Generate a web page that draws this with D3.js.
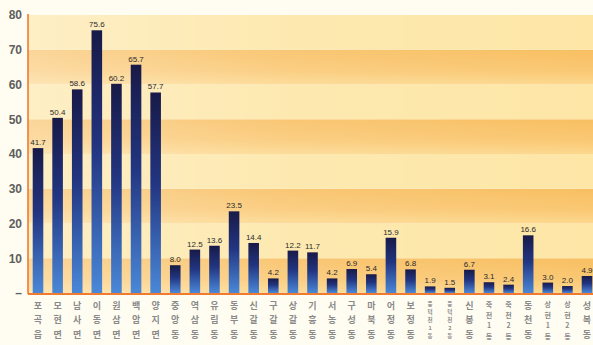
<!DOCTYPE html>
<html><head><meta charset="utf-8">
<script src="https://cdn.jsdelivr.net/npm/d3@7"></script>
<style>
html,body{margin:0;padding:0;background:#fffdf1;}
svg{display:block;}
</style></head>
<body>
<svg id="chart" width="593" height="345"></svg>
<script>
const categories = ["포곡읍","모현면","남사면","이동면","원삼면","백암면","양지면","중앙동","역삼동","유림동","동부동","신갈동","구갈동","상갈동","기흥동","서농동","구성동","마북동","어정동","보정동","풍덕천1동","풍덕천2동","신봉동","죽전1동","죽전2동","동천동","상현1동","상현2동","성복동"];
const values = [41.7,50.4,58.6,75.6,60.2,65.7,57.7,8.0,12.5,13.6,23.5,14.4,4.2,12.2,11.7,4.2,6.9,5.4,15.9,6.8,1.9,1.5,6.7,3.1,2.4,16.6,3.0,2.0,4.9];
const yTicks = [0,10,20,30,40,50,60,70,80];
const yTickLabels = ["–","10","20","30","40","50","60","70","80"];

(function(){
const svg = d3.select("#chart");
const mLeft = 28, mRight = 597, mTop = 15, mBottom = 293;
const x = d3.scaleBand().domain(categories).range([mLeft, mRight]).paddingInner(0.46).paddingOuter(0.24);
const y = d3.scaleLinear().domain([0, 80]).range([mBottom, mTop]);

const defs = svg.append("defs");
const bg = defs.append("linearGradient").attr("id","bgfade").attr("x1","0").attr("x2","1").attr("y1","0").attr("y2","0");
bg.append("stop").attr("offset","0").attr("stop-color","#ffffff").attr("stop-opacity",0.35);
bg.append("stop").attr("offset","0.45").attr("stop-color","#ffffff").attr("stop-opacity",0.12);
bg.append("stop").attr("offset","1").attr("stop-color","#ffffff").attr("stop-opacity",0);
const dk = defs.append("linearGradient").attr("id","dark").attr("x1","0").attr("x2","0").attr("y1","0").attr("y2","1");
dk.append("stop").attr("offset","0").attr("stop-color","#f8bf62");
dk.append("stop").attr("offset","0.6").attr("stop-color","#fac873");
dk.append("stop").attr("offset","1").attr("stop-color","#fcd88e");
const bar = defs.append("linearGradient").attr("id","bar").attr("x1","0").attr("x2","0").attr("y1","0").attr("y2","1");
bar.append("stop").attr("offset","0").attr("stop-color","#181a48");
bar.append("stop").attr("offset","0.45").attr("stop-color","#223581");
bar.append("stop").attr("offset","1").attr("stop-color","#4a88d8");

const bands = d3.range(0, 80, 10);
svg.append("g").selectAll("rect").data(bands).join("rect")
  .attr("x", mLeft).attr("width", 593 - mLeft)
  .attr("y", d => y(d + 10)).attr("height", d => y(d) - y(d + 10))
  .attr("fill", d => (d / 10) % 2 === 0 ? "url(#dark)" : "#fde6a6");
svg.append("rect").attr("x", mLeft).attr("y", mTop).attr("width", 593 - mLeft).attr("height", mBottom - mTop).attr("fill","url(#bgfade)");

svg.append("g").selectAll("rect").data(values).join("rect")
  .attr("x", (d, i) => x(categories[i]))
  .attr("width", x.bandwidth())
  .attr("y", d => y(d))
  .attr("height", d => y(0) - y(d))
  .attr("fill", "url(#bar)");

svg.append("g").selectAll("text").data(values).join("text")
  .attr("x", (d, i) => x(categories[i]) + x.bandwidth() / 2)
  .attr("y", d => y(d) - 3)
  .attr("text-anchor", "middle")
  .attr("font-family", "Liberation Sans, Arial, sans-serif")
  .attr("font-size", 8)
  .attr("fill", "#2a2a2a")
  .text(d => d.toFixed(1));

svg.append("line").attr("x1", mLeft).attr("x2", mLeft).attr("y1", mTop - 1).attr("y2", mBottom + 1)
  .attr("stroke", "#f07a30").attr("stroke-width", 1.6);
svg.append("line").attr("x1", mLeft).attr("x2", 593).attr("y1", mBottom + 1).attr("y2", mBottom + 1)
  .attr("stroke", "#f07a30").attr("stroke-width", 2.2);

const yAxis = d3.axisLeft(y).tickValues(yTicks).tickSize(0).tickPadding(0)
  .tickFormat((d, i) => yTickLabels[i]);
const ya = svg.append("g").attr("transform", `translate(${mLeft - 6},0)`).call(yAxis);
ya.select(".domain").remove();
ya.selectAll("text").attr("font-family", "Liberation Sans, Arial, sans-serif")
  .attr("font-size", 12).attr("font-weight", "bold").attr("fill", "#5e5e5e");

const lab = svg.append("g");
categories.forEach(c => {
  const chars = Array.from(c);
  const cx = x(c) + x.bandwidth() / 2;
  const n = chars.length;
  const y0 = n >= 4 ? 304 : 305, y1 = n >= 4 ? 336 : 334;
  const fs = n >= 5 ? 5.5 : (n === 4 ? 7 : 9);
  chars.forEach((ch, k) => {
    const yy = n === 1 ? y0 : y0 + (y1 - y0) * k / (n - 1);
    lab.append("text").attr("x", cx).attr("y", yy)
      .attr("text-anchor", "middle").attr("dominant-baseline", "central")
      .attr("font-family", "Noto Sans CJK KR, sans-serif")
      .attr("font-size", fs).attr("font-weight", "bold").attr("fill", "#8a8a8a")
      .text(ch);
  });
});
})();
</script>
</body></html>
